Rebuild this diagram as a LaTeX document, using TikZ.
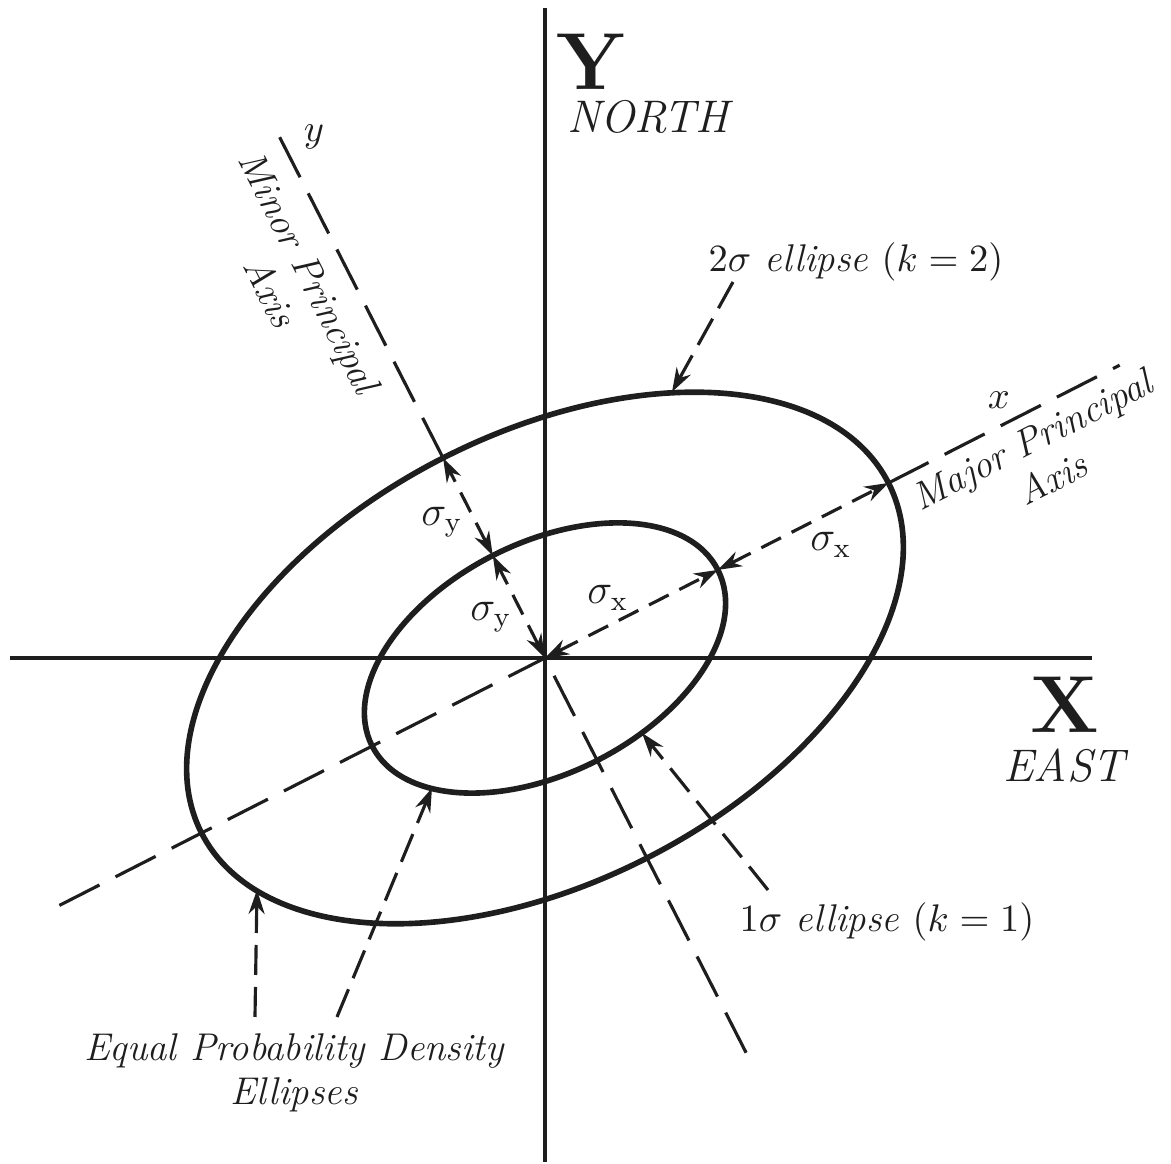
\documentclass[tikz,border=0pt]{standalone}
\usepackage{amsmath}
\usepackage{xcolor}
\definecolor{inkblack}{RGB}{30,30,30}
\usepackage{tikz}
\usetikzlibrary{arrows.meta,calc}
\tikzset{
  axisline/.style   ={line width=1pt,draw=inkblack},
  ellipseline/.style={line width=1.6pt,draw=inkblack},
  principal/.style  ={line width=0.9pt,draw=inkblack,dash pattern=on 4.5mm off 1.8mm},
  sigmaarrow/.style ={{Stealth[length=2.4mm,width=1.6mm]}-{Stealth[length=2.4mm,width=1.6mm]},
                      line width=0.9pt,draw=inkblack,dash pattern=on 2.2mm off 1.2mm},
  pointer/.style    ={-{Stealth[length=2.4mm,width=1.6mm]},line width=0.9pt,draw=inkblack,
                      dash pattern=on 3mm off 1.2mm},
  lbl/.style        ={inner sep=0pt,align=center,text=inkblack,font=\fontsize{11}{12.5}\selectfont\itshape},
  sig/.style        ={inner sep=0pt,text=inkblack,font=\fontsize{12}{14}\selectfont},
  bigaxis/.style    ={inner sep=0pt,text=inkblack,font=\fontsize{23}{26}\selectfont\bfseries},
  compass/.style    ={inner sep=0pt,text=inkblack,font=\fontsize{13}{15}\selectfont\itshape},
}

\begin{document}
\begin{tikzpicture}
  \useasboundingbox (-5.45,-5.06) rectangle (6.26,6.58);
  \coordinate (o) at (0,0);
  \coordinate (north) at (0,6.50);
  \coordinate (south) at (0,-5.04);
  \coordinate (west) at (-5.35,0);
  \coordinate (east) at (5.47,0);
  \coordinate (ix) at (27:1.94);
  \coordinate (ox) at (27:3.855);
  \coordinate (iy) at (117:1.15);
  \coordinate (oy) at (117:2.245);
  \coordinate (majend) at (27:6.45);
  \coordinate (majstart) at (207:5.45);
  \coordinate (minend) at (117:5.92);
  \coordinate (minstart) at (297:4.43);
  \draw[axisline] (west) -- (east);
  \draw[axisline] (south) -- (north);
  \draw[ellipseline,rotate=27] (o) ellipse [x radius=3.855,y radius=2.245];
  \draw[ellipseline,rotate=27] (o) ellipse [x radius=1.94,y radius=1.15];
  \draw[principal] (majstart) -- (o);
  \draw[principal] (ox) -- (majend);
  \draw[principal] (minstart) -- (o);
  \draw[principal] (oy) -- (minend);
  \draw[sigmaarrow] (o) -- (ix);
  \draw[sigmaarrow] (ix) -- (ox);
  \draw[sigmaarrow] (o) -- (iy);
  \draw[sigmaarrow] (iy) -- (oy);
  \node[sig] (sxin) at (0.63,0.60) {$\sigma_{\mathrm{x}}$};
  \node[sig] (sxout) at (2.86,1.13) {$\sigma_{\mathrm{x}}$};
  \node[sig] (syin) at (-0.54,0.41) {$\sigma_{\mathrm{y}}$};
  \node[sig] (syout) at (-1.03,1.36) {$\sigma_{\mathrm{y}}$};
  \node[bigaxis] (ylbl) at (0.46,5.96) {Y};
  \node[compass] (northlbl) at (1.03,5.41) {NORTH};
  \node[bigaxis] (xlbl) at (5.20,-0.47) {X};
  \node[compass] (eastlbl) at (5.19,-1.08) {EAST};
  \node[lbl] (yaxlbl) at (-2.31,5.21) {$y$};
  \node[lbl] (xaxlbl) at (4.54,2.58) {$x$};
  \node[lbl,rotate=-63] (minorlbl) at (-2.55,3.76) {Minor Principal\\Axis};
  \node[lbl,rotate=27] (majorlbl) at (4.97,1.99) {Major Principal\\Axis};
  \node[lbl] (twolbl) at (3.11,3.96) {$2\sigma$ ellipse $(k=2)$};
  \node[lbl] (onelbl) at (3.42,-2.64) {$1\sigma$ ellipse $(k=1)$};
  \node[lbl] (equallbl) at (-2.51,-4.15) {Equal Probability Density\\Ellipses};
  \coordinate (twofrom) at (1.88,3.76);
  \coordinate (twoto) at (1.27,2.66);
  \coordinate (onefrom) at (2.23,-2.32);
  \coordinate (oneto) at (0.97,-0.75);
  \coordinate (eqafrom) at (-2.90,-3.59);
  \coordinate (eqato) at (-2.88,-2.32);
  \coordinate (eqbfrom) at (-2.08,-3.59);
  \coordinate (eqbto) at (-1.13,-1.30);
  \draw[pointer] (twofrom) -- (twoto);
  \draw[pointer] (onefrom) -- (oneto);
  \draw[pointer] (eqafrom) -- (eqato);
  \draw[pointer] (eqbfrom) -- (eqbto);
\end{tikzpicture}
\end{document}
